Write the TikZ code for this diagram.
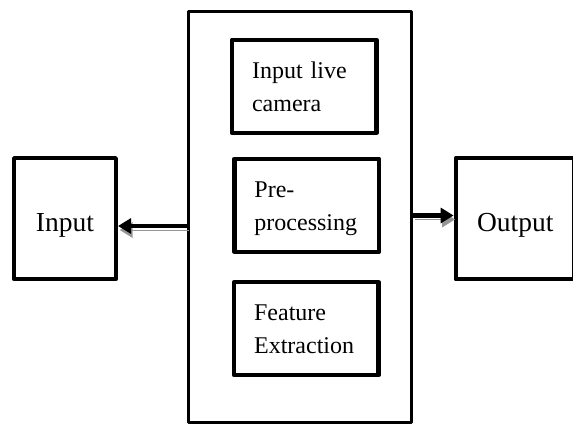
\documentclass[tikz,border=0pt]{standalone}
\usepackage{fontspec}
\setmainfont{Liberation Serif}
\usetikzlibrary{arrows.meta}
\definecolor{shadowgray}{RGB}{150,150,150}
% zero-height strut that gives the last line of a block a fixed depth
\newcommand\lastdepth{\rule[-5pt]{0pt}{0pt}}
\begin{document}
\begin{tikzpicture}[x=1pt,y=-1pt,
  framebox/.style={draw, line join=round, inner sep=0pt},
  sidebox/.style={framebox, line width=4.5pt, minimum height=121pt,
    font=\fontsize{27.5}{33}\selectfont, text height=27pt, text depth=1pt},
  stagebox/.style={framebox, line width=4.5pt, minimum height=93pt,
    inner xsep=20pt, text width=104.5pt, align=left,
    font=\fontsize{24}{33}\selectfont, text height=22pt},
  flow/.style={line width=4.5pt, -{Triangle[length=13pt,width=15pt]},
    preaction={draw=shadowgray, -{Triangle[length=13pt,width=15pt]},
      transform canvas={shift={(1.5pt,-4pt)}}}}]
\useasboundingbox (0,0) rectangle (573,425);
\clip (0,0) rectangle (573,425);

% system block with its three stages
\node[framebox, line width=3pt, minimum width=223.3pt, minimum height=410pt]
  (system) at (300.3,217) {};
\node[stagebox] (camera) at (304.3,86.3) {Input live\\camera\lastdepth};
\node[stagebox] (prep) at (306.7,205.3) {Pre-\\processing\lastdepth};
\node[stagebox] (feat) at (306.4,328.7) {Feature\\Extraction\lastdepth};

% input and output blocks (the output block runs to the right margin)
\node[sidebox, minimum width=101.6pt] (input) at (65,218.7) {Input};
\node[sidebox, minimum width=118.7pt] (output) at (515.2,218.7) {Output};

% connectors
\coordinate (leftrow) at (0,226);
\coordinate (rightrow) at (0,215.5);
\draw[flow] (system.west |- leftrow) -- (input.east |- leftrow);
\draw[flow] (system.east |- rightrow) -- (output.west |- rightrow);
\end{tikzpicture}
\end{document}
